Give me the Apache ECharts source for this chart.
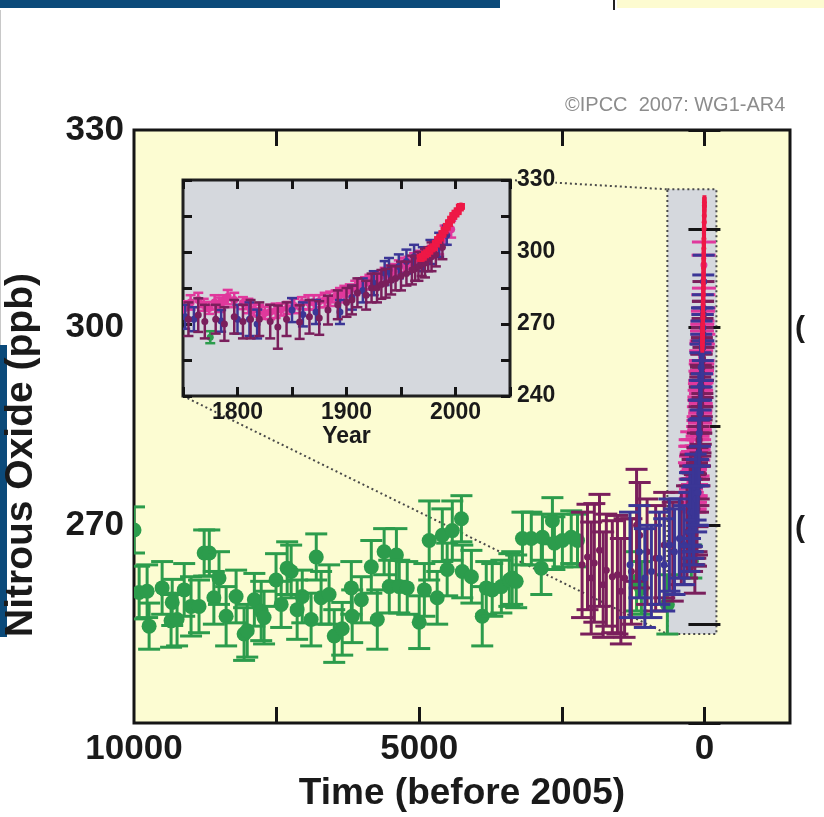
<!DOCTYPE html>
<html>
<head>
<meta charset="utf-8">
<script src="https://cdn.jsdelivr.net/npm/echarts@6/dist/echarts.min.js"></script>
<style>
  html, body { margin: 0; padding: 0; background: #fff; }
  #main { width: 824px; height: 817px; }
</style>
</head>
<body>
<div id="main"></div>
<script>
// ice core record, years before 2005
const greenAge = [10000, 9910, 9770, 9735, 9507, 9350, 9330, 9245, 9120, 9000,
  8860, 8770, 8680, 8600, 8510, 8385, 8210, 8070, 8015, 7890,
  7770, 7720, 7510, 7420, 7315, 7245, 7140, 7050, 6895, 6805,
  6720, 6580, 6490, 6350, 6190, 6175, 6015, 5840, 5735, 5615,
  5525, 5400, 5350, 5210, 5000, 4910, 4825, 4685, 4595, 4510,
  4420, 4260, 4245, 4085, 3895, 3825, 3720, 3560, 3420, 3370,
  3300, 3190, 3035, 2860, 2840, 2665, 2630, 2490, 2335, 2225,
  1190, 1105, 650, 230]
const greenN2O = [269.3, 259.8, 260.0, 254.7, 260.5, 255.5, 258.3, 255.7, 260.2, 257.7,
  257.7, 265.8, 265.8, 259.0, 262.0, 256.2, 259.2, 253.5, 254.0, 258.7,
  257.0, 256.0, 261.7, 258.0, 263.5, 263.0, 257.2, 259.2, 255.7, 265.2,
  259.0, 259.5, 253.2, 254.3, 260.5, 256.2, 258.7, 263.7, 255.7, 266.0,
  260.7, 265.5, 260.7, 260.5, 255.3, 260.2, 267.7, 259.0, 268.5, 263.3,
  269.2, 271.0, 263.0, 262.2, 256.2, 260.5, 260.2, 260.7, 261.7, 262.0,
  261.5, 268.0, 268.0, 263.5, 268.2, 270.7, 267.3, 267.7, 268.2, 267.7,
  261.5, 260.5, 258.0, 264.5]
const greenErr = [3.5, 4, 4, 3.5, 4, 4, 3.5, 4, 4, 4.5,
  4, 3.5, 3.5, 4, 4, 4.5, 4, 4, 4, 4,
  4.5, 4, 4, 3.5, 4, 4, 4.5, 4, 4, 3.5,
  4, 4.5, 4, 4, 4, 4, 3.5, 4, 4.5, 3.5,
  4, 4, 4, 4, 4, 4, 6, 4, 4, 4,
  4.5, 3.5, 4, 4, 4.5, 4, 4, 4, 4, 4,
  4, 4, 4, 4, 3.5, 3.5, 4, 4, 4, 4,
  4.5, 4, 4.5, 2.5]

// recent records, calendar year
const maroonYear = [-140, -45, 20, 75, 165, 230, 285, 390, 480, 540,
  605, 725, 815, 870, 1000, 1150, 1300, 1450, 1600, 1700,
  1755, 1764, 1770, 1780, 1788, 1797, 1805, 1812, 1820, 1830,
  1837, 1845, 1857, 1866, 1875, 1883, 1892, 1900, 1905, 1910,
  1918, 1923, 1928, 1932, 1936, 1941, 1945, 1950, 1955, 1960,
  1963, 1966, 1969, 1972, 1975, 1978, 1982, 1988]
const maroonN2O = [264, 265.2, 262, 264.3, 266.2, 261, 263.2, 262.2, 262.5, 260,
  262, 263, 270, 268.5, 266, 265, 267, 266, 268, 269,
  272, 273.7, 271, 272, 270, 273, 271, 272, 272, 271,
  268.7, 272, 270.8, 273, 272.5, 275.8, 278, 279, 280, 283,
  282, 285, 285, 286.5, 287, 288.3, 289, 290, 291, 292.5,
  293, 294, 295, 295.4, 297, 298, 299, 302]
const maroonErr = [8, 8, 8.5, 9, 8.5, 8, 8.5, 8.5, 9, 8,
  9, 8, 8.5, 8, 8, 8, 8, 7.5, 7, 7,
  7, 7, 7, 6, 7, 7, 7, 8, 7, 7,
  9, 7, 7, 7, 7, 6, 6, 6, 6, 6,
  6, 6, 6, 6, 6, 6, 5, 6, 5, 6,
  5, 6, 5, 6, 5, 6, 5, 5]

const blueYear = [700, 865, 960, 1075, 1215, 1300, 1391, 1480, 1566, 1650,
  1742, 1752, 1760, 1785, 1800, 1811, 1818, 1850, 1860, 1872,
  1894, 1905, 1915, 1925, 1935, 1939, 1948, 1955, 1962, 1970,
  1977, 1985, 1992]
const blueN2O = [264, 266, 262, 263, 265, 264, 267, 266, 268, 267,
  269, 273, 272, 271.3, 272, 272, 270, 275.8, 274, 275,
  275, 281, 284, 287, 291.2, 292.5, 294, 296, 298, 297,
  300, 303, 307]
const blueErr = [8, 7, 7.5, 7, 7, 7, 7, 6.5, 6, 6,
  6, 5, 5, 4.5, 6, 7, 6, 5, 5, 5,
  5, 5, 5, 5, 5, 5, 5, 5, 5, 5,
  5, 5, 4]

const pinkYear = [1751, 1757, 1764, 1769, 1774, 1779, 1783, 1787, 1791, 1797,
  1805, 1810, 1815, 1820, 1825, 1830, 1835, 1840, 1846, 1852,
  1859, 1865, 1870, 1875, 1880, 1885, 1890, 1894, 1898, 1903,
  1908, 1912, 1917, 1921, 1926, 1930, 1935, 1940, 1944, 1948,
  1953, 1957, 1962, 1967, 1972, 1978, 1985, 1990, 1996]
const pinkN2O = [276.5, 279, 280, 278, 276.7, 279, 278, 279.5, 281.2, 280,
  278.7, 277.5, 276, 275.5, 274.6, 275, 275.5, 276, 276.7, 277.5,
  278.7, 279, 279, 279.5, 280, 280.5, 281.5, 282, 282.9, 284,
  285, 286, 287, 287.5, 288.5, 289.5, 290.4, 291.5, 292.5, 293.5,
  294.6, 295.5, 296.5, 297.5, 298, 300, 302, 307, 309.5]
const pinkErr = [3, 3, 3, 2.5, 2.5, 3, 3, 2.5, 3, 3,
  2.5, 3, 2.5, 2.5, 2.5, 3, 3, 2.5, 2.5, 3,
  2.5, 3, 3, 2.5, 3, 3, 2.5, 3, 3, 2.5,
  3, 3, 2.5, 3, 3, 2.5, 3, 3, 2.5, 3,
  3, 2.5, 3, 3, 3, 2.5, 3, 4, 3.5]

const redYear = [1968, 1970, 1972, 1974, 1976, 1978, 1980, 1982, 1984, 1986,
  1988, 1990, 1992, 1994, 1996, 1998, 2000, 2002, 2004, 2005]
const redN2O = [297.5, 298, 299, 299.5, 300.5, 301.5, 302, 303.5, 305, 306,
  307.5, 309, 310.5, 312, 313.5, 315, 316, 317, 318.5, 319]
const redErr = [1, 1, 1, 1, 1, 1, 1, 1, 1, 1,
  1, 1, 1, 1, 1, 1, 1, 1, 1, 0.8]

// tick labels
const ageTicks = [7500, 5000, 2500, 0]
const ageLabels = [10000, 5000, 0]
const mainN2OLabels = [270, 300, 330]
const insetYearLabels = [1800, 1900, 2000]

// zoom box drawn on the main panel (age, ppb)
const zoomBoxAge = [650, -210]
const zoomBoxN2O = [253.5, 321]

const refYear = 2005
const yellow = '#fcfcd2'
const grey = '#d5d8dd'
const font = 'Liberation Sans, Arial, sans-serif'

function errorBar(color, capHalf, lw, r) {
  return function (params, api) {
    const x = api.value(0), y = api.value(1), e = api.value(2)
    const c = api.coord([x, y])
    const top = api.coord([x, y + e])
    const bot = api.coord([x, y - e])
    const style = { stroke: color, lineWidth: lw }
    return {
      type: 'group',
      children: [
        { type: 'line', shape: { x1: c[0], y1: top[1], x2: c[0], y2: bot[1] }, style: style },
        { type: 'line', shape: { x1: c[0] - capHalf, y1: top[1], x2: c[0] + capHalf, y2: top[1] }, style: style },
        { type: 'line', shape: { x1: c[0] - capHalf, y1: bot[1], x2: c[0] + capHalf, y2: bot[1] }, style: style },
        { type: 'circle', shape: { cx: c[0], cy: c[1], r: r }, style: { fill: color } }
      ]
    }
  }
}

function byAge(ages, vals, errs) {
  return ages.map((a, i) => [a, vals[i], errs[i]])
}
function yearsToAge(years, vals, errs) {
  return years.map((y, i) => [refYear - y, vals[i], errs[i]])
}
function inInset(years, vals, errs) {
  return years.map((y, i) => [y, vals[i], errs[i]]).filter(d => d[0] >= 1750)
}

const colors = {
  green: '#2c9c4c',
  maroon: '#7a1f5c',
  blue: '#3b3696',
  pink: '#e0389c',
  red: '#ee1846'
}

const chart = echarts.init(document.getElementById('main'))

const tickStyle = { width: 3, color: '#151515' }
const bold = { fontFamily: font, fontWeight: 'bold', color: '#1a1a1a' }

function mainSeries(name, data, color, capHalf, lw, r) {
  return {
    name: name, type: 'custom', xAxisIndex: 0, yAxisIndex: 0, z: 3,
    encode: { x: 0, y: 1 }, clip: true,
    renderItem: errorBar(color, capHalf, lw, r), data: data
  }
}
function insetSeries(name, data, color, capHalf, lw, r) {
  return {
    name: name, type: 'custom', xAxisIndex: 2, yAxisIndex: 2, z: 7,
    encode: { x: 0, y: 1 }, clip: true,
    renderItem: errorBar(color, capHalf, lw, r), data: data
  }
}

const greenInset = greenAge.map((a, i) => [refYear - a, greenN2O[i], greenErr[i]]).filter(d => d[0] >= 1750)

const option = {
  animation: false,
  backgroundColor: '#fff',
  grid: [
    { left: 134, top: 130, width: 656, height: 602, show: true, backgroundColor: yellow,
      borderColor: '#151515', borderWidth: 3, z: 0 },
    { left: 183, top: 180, width: 327, height: 216, show: true, backgroundColor: grey,
      borderColor: '#202020', borderWidth: 3, z: 4 }
  ],
  xAxis: [
    { gridIndex: 0, type: 'value', min: -1500, max: 10000, inverse: true, position: 'bottom', z: 1,
      axisLine: { show: false }, splitLine: { show: false },
      axisTick: { inside: true, length: 16, lineStyle: tickStyle, customValues: ageTicks },
      axisLabel: Object.assign({ fontSize: 35, margin: 9, customValues: ageLabels,
        formatter: v => String(v) }, bold),
      name: 'Time (before 2005)', nameLocation: 'middle', nameGap: 52,
      nameTextStyle: Object.assign({ fontSize: 37, verticalAlign: 'top' }, bold) },
    { gridIndex: 0, type: 'value', min: -1500, max: 10000, inverse: true, position: 'top', z: 1,
      axisLine: { show: false }, splitLine: { show: false },
      axisTick: { inside: true, length: 16, lineStyle: tickStyle, customValues: ageTicks },
      axisLabel: { show: false } },
    { gridIndex: 1, type: 'value', min: 1750, max: 2050, interval: 50, position: 'bottom', z: 6,
      axisLine: { show: false }, splitLine: { show: false },
      axisTick: { inside: true, length: 9, lineStyle: tickStyle },
      axisLabel: Object.assign({ fontSize: 23, margin: 5,
        formatter: v => insetYearLabels.includes(v) ? String(v) : '' }, bold),
      name: 'Year', nameLocation: 'middle', nameGap: 28,
      nameTextStyle: Object.assign({ fontSize: 23, verticalAlign: 'top' }, bold) },
    { gridIndex: 1, type: 'value', min: 1750, max: 2050, interval: 50, position: 'top', z: 6,
      axisLine: { show: false }, splitLine: { show: false },
      axisTick: { inside: true, length: 9, lineStyle: tickStyle },
      axisLabel: { show: false } }
  ],
  yAxis: [
    { gridIndex: 0, type: 'value', min: 240, max: 330, interval: 15, position: 'left', z: 1,
      axisLine: { show: false }, splitLine: { show: false },
      axisTick: { inside: true, length: 16, lineStyle: tickStyle },
      axisLabel: Object.assign({ fontSize: 35, margin: 10,
        formatter: v => mainN2OLabels.includes(v) ? String(v) : '' }, bold) },
    { gridIndex: 0, type: 'value', min: 240, max: 330, interval: 15, position: 'right', z: 1,
      axisLine: { show: false }, splitLine: { show: false },
      axisTick: { inside: true, length: 16, lineStyle: tickStyle },
      axisLabel: { show: false } },
    { gridIndex: 1, type: 'value', min: 240, max: 330, interval: 15, position: 'left', z: 6,
      axisLine: { show: false }, splitLine: { show: false },
      axisTick: { inside: true, length: 9, lineStyle: tickStyle },
      axisLabel: { show: false } },
    { gridIndex: 1, type: 'value', min: 240, max: 330, interval: 30, position: 'right', z: 6,
      axisLine: { show: false }, splitLine: { show: false },
      axisTick: { show: false },
      axisLabel: Object.assign({ fontSize: 23, margin: 7, backgroundColor: yellow }, bold) },
    // extra right axis only for the inset's 15 ppb ticks
    { gridIndex: 1, type: 'value', min: 240, max: 330, interval: 15, position: 'right', z: 6,
      axisLine: { show: false }, splitLine: { show: false },
      axisTick: { inside: true, length: 9, lineStyle: tickStyle },
      axisLabel: { show: false } }
  ],
  series: [
    { name: 'zoom box', type: 'line', xAxisIndex: 0, yAxisIndex: 0, data: [], z: 1,
      markArea: {
        silent: true,
        itemStyle: { color: grey, borderColor: '#4a4a4a', borderWidth: 2, borderType: [2, 3] },
        data: [[{ coord: [zoomBoxAge[0], zoomBoxN2O[1]] }, { coord: [zoomBoxAge[1], zoomBoxN2O[0]] }]]
      } },
    mainSeries('green', byAge(greenAge, greenN2O, greenErr), colors.green, 11, 3, 7.5),
    mainSeries('pink', yearsToAge(pinkYear, pinkN2O, pinkErr), colors.pink, 12, 3, 3.5),
    mainSeries('maroon', yearsToAge(maroonYear, maroonN2O, maroonErr), colors.maroon, 11, 3, 3.5),
    mainSeries('blue', yearsToAge(blueYear, blueN2O, blueErr), colors.blue, 11, 3, 3.5),
    mainSeries('red', yearsToAge(redYear, redN2O, redErr), colors.red, 2, 4, 2.5),
    insetSeries('green', greenInset, colors.green, 5, 2.5, 3.5),
    insetSeries('pink', inInset(pinkYear, pinkN2O, pinkErr), colors.pink, 5, 2.5, 4),
    insetSeries('blue', inInset(blueYear, blueN2O, blueErr), colors.blue, 5, 2.5, 3.5),
    insetSeries('maroon', inInset(maroonYear, maroonN2O, maroonErr), colors.maroon, 5, 2.5, 3.5),
    insetSeries('red', inInset(redYear, redN2O, redErr), colors.red, 4, 3, 4)
  ]
}
chart.setOption(option)

// connector lines between the inset and the zoom box, plus page leftovers
const boxTL = chart.convertToPixel({ xAxisIndex: 0, yAxisIndex: 0 }, [zoomBoxAge[0], zoomBoxN2O[1]])
const boxBL = chart.convertToPixel({ xAxisIndex: 0, yAxisIndex: 0 }, [zoomBoxAge[0], zoomBoxN2O[0]])
const inset = { left: 183, top: 180, right: 510, bottom: 396 }
const dotted = { stroke: '#4a4a4a', lineWidth: 2, lineDash: [2, 3] }

chart.setOption({
  graphic: [
    { type: 'line', z: 2, shape: { x1: inset.right, y1: inset.top, x2: boxTL[0], y2: boxTL[1] }, style: dotted },
    { type: 'line', z: 2, shape: { x1: inset.left, y1: inset.bottom, x2: boxBL[0], y2: boxBL[1] }, style: dotted },
    { type: 'text', left: 565, top: 95, z: 10,
      style: { text: '\u00A9IPCC  2007: WG1-AR4', font: '20px ' + font, fill: '#8c8c8c' } },
    { type: 'text', x: 21, y: 455, rotation: Math.PI / 2, z: 10,
      style: { text: 'Nitrous Oxide (ppb)', font: 'bold 39px ' + font, fill: '#1a1a1a',
        align: 'center', verticalAlign: 'middle' } },
    // slide leftovers around the cropped figure
    { type: 'rect', z: 0, shape: { x: 0, y: 0, width: 500, height: 8 }, style: { fill: '#0b4a7a' } },
    { type: 'rect', z: 0, shape: { x: 617, y: 0, width: 207, height: 8 }, style: { fill: '#fdfbd0' } },
    { type: 'rect', z: 0, shape: { x: 613, y: 0, width: 2, height: 10 }, style: { fill: '#222' } },
    { type: 'rect', z: 0, shape: { x: 0, y: 10, width: 1, height: 335 }, style: { fill: '#c8c8c8' } },
    { type: 'rect', z: 0, shape: { x: 0, y: 345, width: 7, height: 292 }, style: { fill: '#0b4a7a' } },
    { type: 'text', left: 795, top: 314, z: 10, style: { text: '(', font: 'bold 30px ' + font, fill: '#1a1a1a' } },
    { type: 'text', left: 795, top: 514, z: 10, style: { text: '(', font: 'bold 30px ' + font, fill: '#1a1a1a' } }
  ]
})
</script>
</body>
</html>
